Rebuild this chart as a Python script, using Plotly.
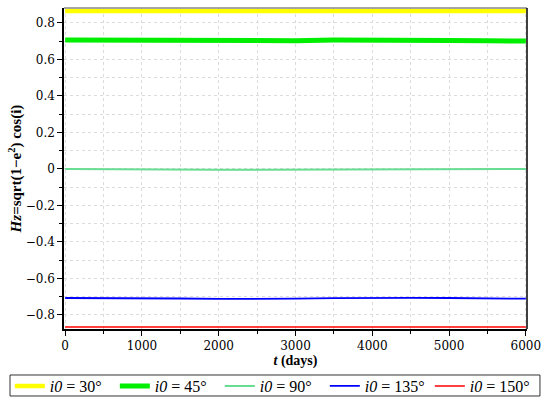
import plotly.graph_objects as go

days = [0, 500, 1000, 1500, 2000, 2500, 3000, 3500, 4000, 4500, 5000, 5500, 6000]
hz_30 = [0.866, 0.866, 0.866, 0.866, 0.866, 0.866, 0.866, 0.866, 0.866, 0.866, 0.866, 0.866, 0.866]
hz_45 = [0.707, 0.706, 0.704, 0.702, 0.701, 0.701, 0.703, 0.706, 0.707, 0.706, 0.704, 0.702, 0.701]
hz_90 = [0.0, 0.0, 0.0, -0.002, -0.004, -0.005, -0.004, -0.002, 0.0, 0.001, 0.0, 0.0, 0.0]
hz_135 = [-0.707, -0.707, -0.708, -0.710, -0.712, -0.713, -0.711, -0.708, -0.706, -0.706, -0.707, -0.709, -0.711]
hz_150 = [-0.866, -0.866, -0.866, -0.866, -0.866, -0.866, -0.866, -0.866, -0.866, -0.866, -0.866, -0.866, -0.866]

series = [
    ("<i>i0</i> = 30°", hz_30, "#ffff00", 4.5),
    ("<i>i0</i> = 45°", hz_45, "#00ee00", 5),
    ("<i>i0</i> = 90°", hz_90, "#66dd90", 2),
    ("<i>i0</i> = 135°", hz_135, "#0000ff", 1.8),
    ("<i>i0</i> = 150°", hz_150, "#ff0000", 1.5),
]

FONT = "DejaVu Serif"
TFONT = "Liberation Serif"
fig = go.Figure()
for name, vals, color, w in series:
    fig.add_trace(go.Scatter(x=days, y=vals, mode="lines", name=name,
                             line=dict(color=color, width=w)))

fig.update_layout(
    width=542, height=400,
    margin=dict(l=64, r=15, t=8, b=71, autoexpand=False),
    plot_bgcolor="white", paper_bgcolor="white",
    font=dict(family=FONT, size=12, color="black"),
    showlegend=True,
    legend=dict(orientation="h", x=-0.117, xanchor="left", y=-0.1776, yanchor="middle",
                borderwidth=0, bgcolor="rgba(0,0,0,0)",
                font=dict(family=TFONT, size=16),
                itemwidth=30, tracegroupgap=0, entrywidth=60, entrywidthmode="pixels"),
)
fig.update_xaxes(
    range=[-15, 6015], tickvals=[0, 1000, 2000, 3000, 4000, 5000, 6000],
    showline=True, linecolor="black", linewidth=1.5, ticks="outside", ticklen=5,
    tickcolor="black", showgrid=True, gridcolor="#dcdcdc", griddash="dot", gridwidth=1,
    minor=dict(dtick=500, ticks="outside", ticklen=3, tickcolor="black",
               showgrid=True, gridcolor="#dcdcdc", griddash="dot"),
    zeroline=False, automargin=False,
    title=dict(text="<b><i>t</i> (days)</b>", standoff=2, font=dict(family=TFONT, size=14)),
)
fig.update_yaxes(
    range=[-0.877, 0.882], tickvals=[-0.8, -0.6, -0.4, -0.2, 0, 0.2, 0.4, 0.6, 0.8],
    showline=True, linecolor="black", linewidth=1.5, ticks="outside", ticklen=5,
    tickcolor="black", showgrid=True, gridcolor="#dcdcdc", griddash="dot", gridwidth=1,
    minor=dict(dtick=0.1, ticks="outside", ticklen=3, tickcolor="black",
               showgrid=True, gridcolor="#dcdcdc", griddash="dot"),
    zeroline=False, automargin=False,
    title=dict(text="<b><i>Hz</i>=sqrt(1−e<sup>2</sup>) cos(i)</b>", standoff=0,
               font=dict(family=TFONT, size=15)),
)
fig.add_shape(type="line", xref="paper", yref="paper", x0=0, x1=1, y0=1, y1=1,
              line=dict(color="#888888", width=1.5))
fig.add_shape(type="line", xref="paper", yref="paper", x0=1, x1=1, y0=0, y1=1,
              line=dict(color="black", width=1.5))
fig.add_shape(type="rect", xref="paper", yref="paper", x0=-0.1166, x1=1.028,
              y0=-0.2087, y1=-0.1433, line=dict(color="#333333", width=1))
fig.write_html("out.html")
